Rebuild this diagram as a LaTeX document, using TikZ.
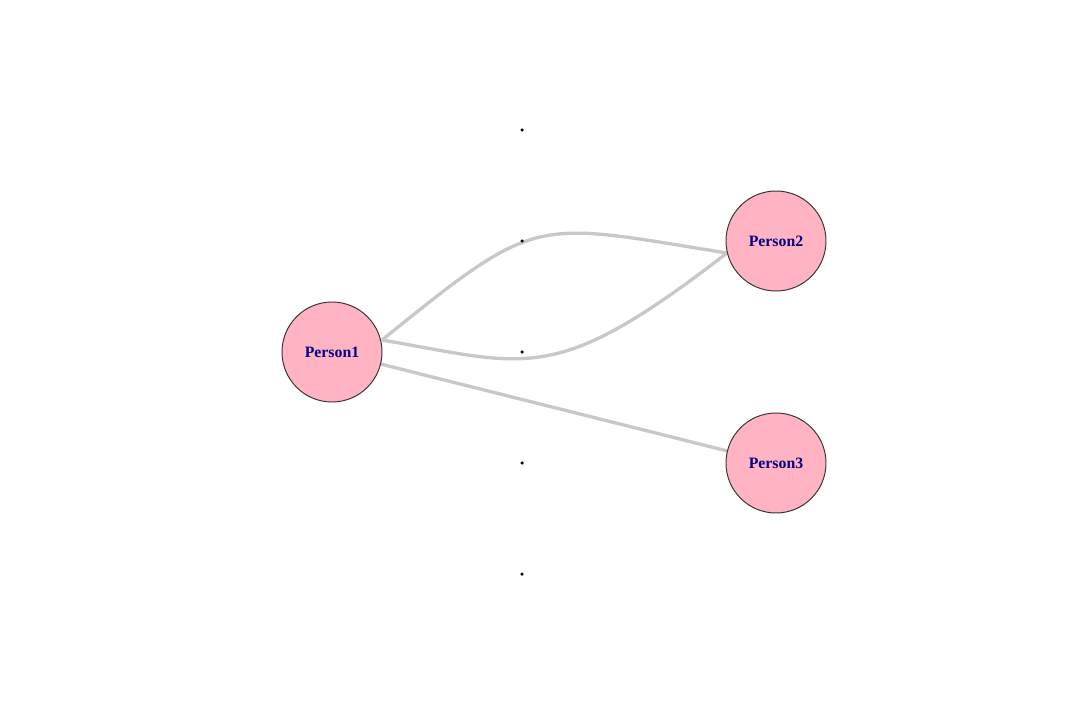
\documentclass[tikz,border=0pt]{standalone}
\usepackage{fontspec}
\setmainfont{Liberation Serif}
\definecolor{nodepink}{HTML}{FFB3C3}
\definecolor{edgegray}{HTML}{C8C8C8}
\definecolor{labelnavy}{HTML}{000080}
\definecolor{rimgray}{HTML}{333333}
\tikzset{
  person/.style={circle, draw=rimgray, line width=0.55pt, fill=nodepink,
    minimum size=100*0.02cm, inner sep=0pt,
    font=\fontsize{9}{10}\selectfont\bfseries, text=labelnavy},
  tinydot/.style={circle, fill=black, minimum size=3.5*0.02cm, inner sep=0pt},
  link/.style={draw=edgegray, line width=1.9pt},
}
\begin{document}
\begin{tikzpicture}[x=0.02cm,y=-0.02cm]
\useasboundingbox (0,0) rectangle (1080,720);
% edges (drawn first, behind the nodes)
\coordinate (a1) at (382,340);
\coordinate (b1) at (727,253);
\coordinate (a3) at (380.5,364);
\coordinate (b3) at (727.5,451);
\draw[link] (a1) .. controls (539.5,212.8) and (531.2,221.6) .. (b1);
\draw[link] (a1) .. controls (529.7,365.4) and (554.3,386.4) .. (b1);
\draw[link] (a3) -- (b3);
% nodes
\node[person] (p1) at (332,352) {Person1};
\node[person] (p2) at (776,241) {Person2};
\node[person] (p3) at (776,463) {Person3};
% small vertices
\node[tinydot] (d1) at (522,130) {};
\node[tinydot] (d2) at (522,241) {};
\node[tinydot] (d3) at (522,352) {};
\node[tinydot] (d4) at (522,463) {};
\node[tinydot] (d5) at (522,574) {};
\end{tikzpicture}
\end{document}
